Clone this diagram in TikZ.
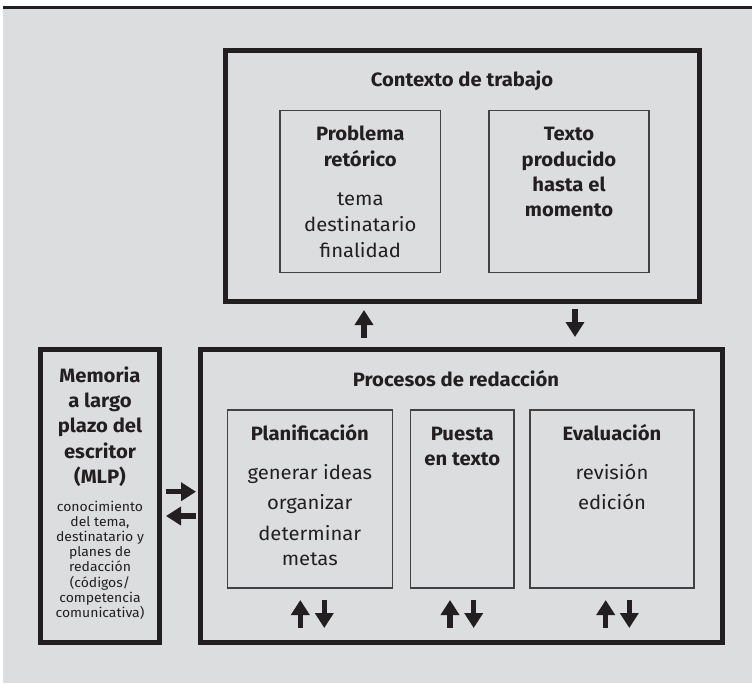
\documentclass[tikz,border=0pt]{standalone}
\usepackage{fontspec}
\setmainfont{Fira Sans}[FakeStretch=1.05]
\usetikzlibrary{arrows.meta}
\definecolor{bg}{RGB}{220,221,223}
\definecolor{ink}{RGB}{35,31,32}
\tikzset{
  bigbox/.style={draw=ink, line width=5pt, inner sep=0pt, outer sep=0pt, anchor=north west},
  smallbox/.style={draw=ink!85, line width=1.2pt, inner sep=0pt, outer sep=0pt, anchor=north west},
  head/.style={font=\fontsize{19.3}{25.3}\selectfont\bfseries, text=ink, align=center, inner sep=0pt, anchor=base},
  body/.style={font=\fontsize{19.3}{26}\selectfont, text=ink, align=center, inner sep=0pt, anchor=base},
  small/.style={font=\fontsize{13.3}{15.2}\selectfont, text=ink, align=center, inner sep=0pt, anchor=base},
  barrow/.style={draw=ink, line width=5.5pt, -{Triangle[width=18pt,length=15pt]}}
}
\begin{document}
\begin{tikzpicture}[x=1pt,y=-1pt]
\useasboundingbox (0,0) rectangle (752,683);
\fill[bg] (3,9) rectangle (752,683);
\fill[ink] (3,6) rectangle (752,9);

% Context box
\node[bigbox, minimum width=474pt, minimum height=250.7pt] (ctx) at (225.5,50.8) {};
\node[head] (ctxt) at (462,86.7) {Contexto de trabajo};
\node[smallbox, minimum width=160.7pt, minimum height=162pt] (prob) at (280,110.7) {};
\node[smallbox, minimum width=160pt, minimum height=162pt] (texto) at (489,110.7) {};
\node[head] (probt) at (360.3,166) {Problema\\retórico};
\node[body] (probb) at (360.3,257) {tema\\destinatario\\finalidad};
\node[head] (textot) at (569,216.8) {Texto\\producido\\hasta el\\momento};

% Processes box
\node[bigbox, minimum width=522pt, minimum height=293pt] (proc) at (200.5,349.5) {};
\node[head] (proct) at (456,386.3) {Procesos de redacción};
\node[smallbox, minimum width=165pt, minimum height=178pt] (plan) at (227.3,410) {};
\node[smallbox, minimum width=103.3pt, minimum height=178pt] (puesta) at (410.7,410) {};
\node[smallbox, minimum width=164pt, minimum height=178pt] (eval) at (530,410) {};
\node[head] (plant) at (309.8,440.4) {Planificación};
\node[body] (plan1) at (309.8,479.3) {generar ideas};
\node[body] (plan2) at (309.8,509.3) {organizar};
\node[body, font=\fontsize{19.3}{25}\selectfont] (plan3) at (309.8,565) {determinar\\metas};
\node[head, font=\fontsize{19.3}{24.6}\selectfont\bfseries] (puestat) at (462.3,465) {Puesta\\en texto};
\node[head] (evalt) at (612,440.4) {Evaluación};
\node[body] (eval1) at (612,479.3) {revisión};
\node[body] (eval2) at (612,509.3) {edición};

% MLP box
\node[bigbox, minimum width=119pt, minimum height=293pt] (mlp) at (40.5,349.5) {};
\node[head, font=\fontsize{19.3}{25.1}\selectfont\bfseries] (mlpt) at (100,483.1) {Memoria\\a largo\\plazo del\\escritor\\(MLP)};
\node[small] (mlpb) at (100,617.4) {conocimiento\\del tema,\\destinatario y\\planes de\\redacción\\(códigos/\\competencia\\comunicativa)};

% arrows
\coordinate (u1a) at (364,338); \coordinate (u1b) at (364,310);
\coordinate (d1a) at (575,309); \coordinate (d1b) at (575,337);
\draw[barrow] (u1a) -- (u1b);
\draw[barrow] (d1a) -- (d1b);
\coordinate (ra) at (166,491.7); \coordinate (rb) at (196,491.7);
\coordinate (la) at (196,516); \coordinate (lb) at (166,516);
\draw[barrow] (ra) -- (rb);
\draw[barrow] (la) -- (lb);
\foreach \n/\xu/\xd in {p/300.3/324.3, q/450/473.7, e/605.7/629.3}{
  \coordinate (\n ua) at (\xu,628); \coordinate (\n ub) at (\xu,600);
  \coordinate (\n da) at (\xd,600); \coordinate (\n db) at (\xd,628);
  \draw[barrow] (\n ua) -- (\n ub);
  \draw[barrow] (\n da) -- (\n db);
}
\end{tikzpicture}
\end{document}
